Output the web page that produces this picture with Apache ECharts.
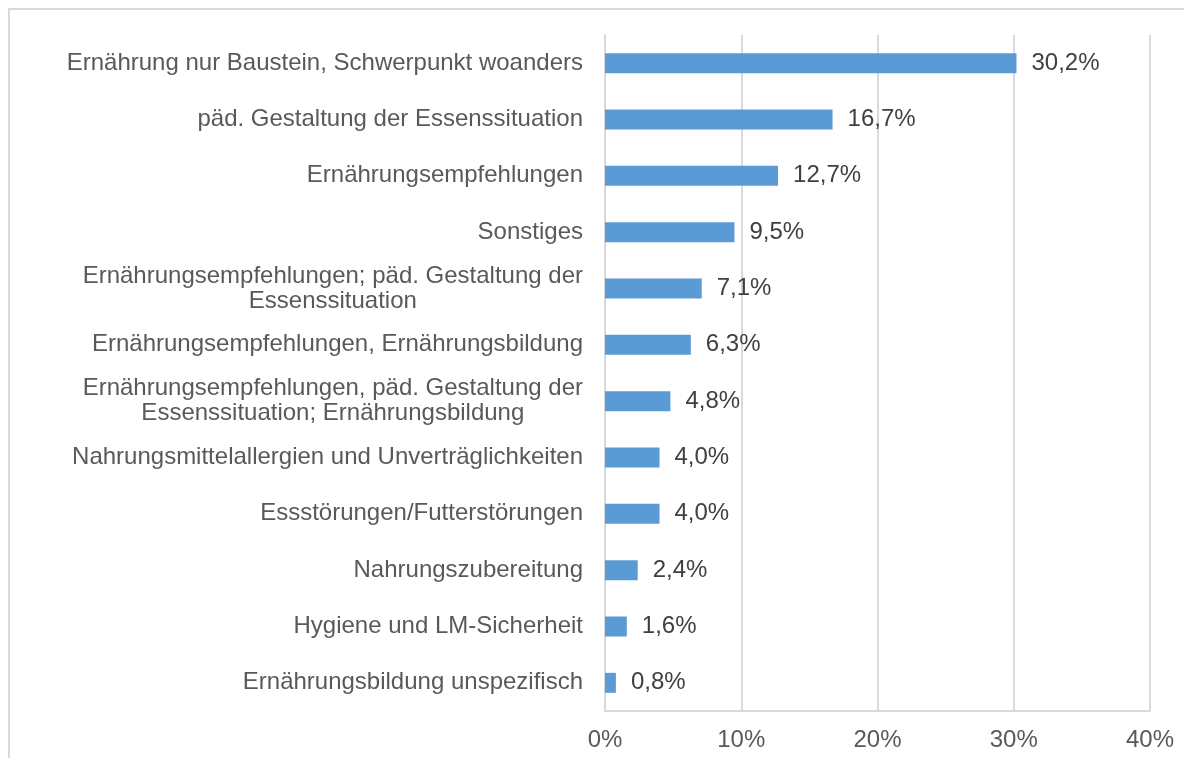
<!DOCTYPE html>
<html>
<head>
<meta charset="utf-8">
<script src="https://cdn.jsdelivr.net/npm/echarts@6/dist/echarts.min.js"></script>
<style>
  html, body { margin: 0; padding: 0; background: #fff; }
  #frame {
    position: absolute; left: 8px; top: 8px; width: 1300px; height: 900px;
    border-left: 2px solid #d9d9d9; border-top: 2px solid #d9d9d9;
  }
  #chart { position: absolute; left: 0; top: 0; width: 1184px; height: 758px; }
</style>
</head>
<body>
<div id="frame"></div>
<div id="chart"></div>
<script>
// categories top to bottom
const categories = [
  'Ernährung nur Baustein, Schwerpunkt woanders',
  'päd. Gestaltung der Essenssituation',
  'Ernährungsempfehlungen',
  'Sonstiges',
  'Ernährungsempfehlungen; päd. Gestaltung der\nEssenssituation',
  'Ernährungsempfehlungen, Ernährungsbildung',
  'Ernährungsempfehlungen, päd. Gestaltung der\nEssenssituation; Ernährungsbildung',
  'Nahrungsmittelallergien und Unverträglichkeiten',
  'Essstörungen/Futterstörungen',
  'Nahrungszubereitung',
  'Hygiene und LM-Sicherheit',
  'Ernährungsbildung unspezifisch'
];
const shares = [30.2, 16.7, 12.7, 9.5, 7.1, 6.3, 4.8, 4.0, 4.0, 2.4, 1.6, 0.8];

const fmtPct = v => v.toFixed(1).replace('.', ',') + '%';

const chart = echarts.init(document.getElementById('chart'));
chart.setOption({
  animation: false,
  textStyle: { fontFamily: '"Liberation Sans", Arial, sans-serif' },
  grid: { left: 605, right: 34, top: 35, bottom: 47, containLabel: false },
  xAxis: {
    type: 'value',
    min: 0, max: 40, interval: 10,
    axisLine: { show: true, lineStyle: { color: '#d9d9d9', width: 2 } },
    axisTick: { show: false },
    splitLine: { show: true, lineStyle: { color: '#d9d9d9', width: 2 } },
    axisLabel: {
      formatter: v => v + '%',
      color: '#595959', fontSize: 24, margin: 17
    }
  },
  yAxis: {
    type: 'category',
    inverse: true,
    data: categories,
    axisLine: { show: true, lineStyle: { color: '#d9d9d9', width: 2 } },
    axisTick: { show: false },
    axisLabel: {
      color: '#595959', fontSize: 24, margin: 22, lineHeight: 25,
      formatter: v => v.split('\n').map(s => '{c|' + s + '}').join('\n'),
      rich: { c: { align: 'center', color: '#595959', fontSize: 24, lineHeight: 25 } }
    }
  },
  series: [{
    type: 'bar',
    data: shares,
    barWidth: 20,
    itemStyle: { color: '#5b9bd5' },
    label: {
      show: true, position: 'right', distance: 15,
      color: '#404040', fontSize: 24,
      formatter: p => fmtPct(p.value)
    }
  }]
});
</script>
</body>
</html>
